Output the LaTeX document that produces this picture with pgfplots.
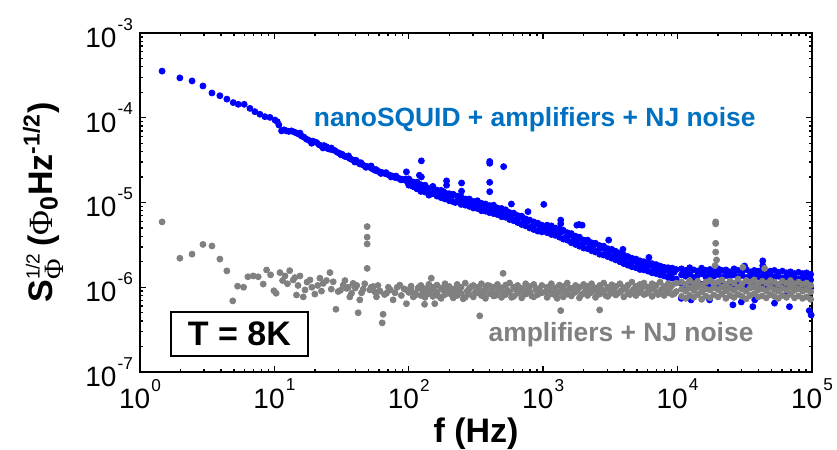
\documentclass[border=0pt]{standalone}
\usepackage{amsmath}
\usepackage{fontspec}
\setmainfont{Liberation Sans}
\newfontfamily\serifphi{Liberation Serif}
\usepackage{pgfplots}
\pgfplotsset{compat=1.18}
\definecolor{sqblue}{RGB}{0,0,255}
\definecolor{sqgray}{RGB}{128,128,128}
\definecolor{txtblue}{RGB}{0,112,192}
\newcommand{\tsup}[1]{\kern0.6pt\raisebox{8.6pt}{\fontsize{8.6}{9}\selectfont #1}}

\pgfplotstableread{
f S
1.46 3.55e-4
1.98 2.95e-4
2.44 2.72e-4
2.94 2.37e-4
3.43 1.96e-4
3.93 1.82e-4
4.43 1.66e-4
4.94 1.51e-4
5.38 1.44e-4
5.96 1.44e-4
6.58 1.29e-4
7.16 1.18e-4
7.80 1.10e-4
8.50 1.03e-4
9.26 1.01e-4
10.1 9.4e-5
10.5 9.0e-5
10.8 8.2e-5
11.3 7.0e-5
11.8 7.2e-5
12.3 7.0e-5
12.8 6.9e-5
13.4 7.0e-5
14.0 6.8e-5
14.6 6.6e-5
15.2 6.4e-5
15.5 6.6e-5
15.9 6.1e-5
16.6 5.9e-5
17.3 5.6e-5
18.1 5.4e-5
18.9 5.0e-5
19.3 5.3e-5
19.7 5.2e-5
20.6 5.1e-5
21.5 4.8e-5
22.4 4.65e-5
23.0 4.4e-5
23.4 4.7e-5
24.4 4.55e-5
25.1 4.3e-5
25.9 4.25e-5
26.5 4.4e-5
27.0 4.2e-5
28.2 4.1e-5
29.4 3.9e-5
30.7 3.8e-5
31.3 3.65e-5
32.0 3.7e-5
33.4 3.5e-5
34.9 3.45e-5
35.6 3.55e-5
36.4 3.3e-5
38.0 3.2e-5
39.7 3.0e-5
40.5 3.15e-5
41.4 3.0e-5
43.2 2.85e-5
44.0 2.95e-5
45.1 2.8e-5
47.1 2.7e-5
48.0 2.6e-5
49.1 2.65e-5
51.3 2.6e-5
52.4 2.7e-5
53.5 2.5e-5
55.9 2.4e-5
57.0 2.45e-5
58.3 2.35e-5
60.8 2.3e-5
62.0 2.2e-5
63.5 2.25e-5
66.3 2.2e-5
67.7 2.25e-5
69.2 2.15e-5
72.2 2.1e-5
73.8 2.0e-5
75.4 2.05e-5
78.7 1.98e-5
80.4 2.05e-5
82.1 1.95e-5
85.7 1.91e-5
87.5 1.85e-5
89.4 1.88e-5
93.3 1.84e-5
95.3 1.9e-5
96 2.3e-5
97.4 1.78e-5
99.0 1.7e-5
100 1.90e-5
100 1.60e-5
107 1.75e-5
107 1.55e-5
115 1.74e-5
115 1.45e-5
120 2.1e-5
123 1.62e-5
123 1.35e-5
124 3.1e-5
124 2.0e-5
132 1.60e-5
132 1.33e-5
141 1.45e-5
141 1.22e-5
151 1.55e-5
151 1.27e-5
162 1.40e-5
162 1.19e-5
174 1.39e-5
174 1.14e-5
186 1.30e-5
186 1.10e-5
191 1.8e-5
191 1.6e-5
200 1.27e-5
200 1.05e-5
214 1.25e-5
214 1.02e-5
229 1.19e-5
229 1.03e-5
245 1.17e-5
245 0.95e-5
247 1.7e-5
247 1.36e-5
263 1.10e-5
263 9.3e-6
282 1.10e-5
282 9.0e-6
302 1.03e-5
302 8.6e-6
324 1.05e-5
324 8.5e-6
347 9.8e-6
347 8.0e-6
372 9.6e-6
372 7.9e-6
398 9.2e-6
398 7.6e-6
400 3.05e-5
400 2.9e-5
400 1.73e-5
400 1.34e-5
427 9.3e-6
427 7.4e-6
457 8.6e-6
457 7.2e-6
490 8.5e-6
490 6.8e-6
508 2.65e-5
525 8.2e-6
525 6.7e-6
562 7.6e-6
562 6.3e-6
580 9.6e-6
603 7.5e-6
603 6.1e-6
646 7.0e-6
646 5.8e-6
692 6.9e-6
692 5.5e-6
741 6.4e-6
741 5.3e-6
771 7.8e-6
794 6.2e-6
794 5.0e-6
851 5.9e-6
851 4.8e-6
912 5.7e-6
912 4.6e-6
977 5.4e-6
977 4.5e-6
1010 9.5e-6
1070 5.4e-6
1070 4.4e-6
1150 5.3e-6
1150 4.2e-6
1230 5.0e-6
1230 4.1e-6
1320 4.9e-6
1320 3.9e-6
1350 6.2e-6
1350 5.6e-6
1410 4.7e-6
1410 3.7e-6
1510 4.4e-6
1510 3.6e-6
1620 4.3e-6
1620 3.35e-6
1740 4.0e-6
1740 3.2e-6
1780 5.4e-6
1850 5.5e-6
1860 3.9e-6
1860 3.05e-6
1950 5.4e-6
2000 3.6e-6
2000 2.9e-6
2140 3.6e-6
2140 2.85e-6
2290 3.35e-6
2290 2.7e-6
2450 3.3e-6
2450 2.6e-6
2630 3.1e-6
2630 2.45e-6
2820 3.05e-6
2820 2.4e-6
3020 2.85e-6
3020 2.3e-6
3070 3.6e-6
3240 2.8e-6
3240 2.2e-6
3470 2.65e-6
3470 2.1e-6
3720 2.5e-6
3720 2.0e-6
3920 2.8e-6
3980 2.4e-6
3980 1.9e-6
4270 2.3e-6
4270 1.82e-6
4570 2.2e-6
4570 1.75e-6
4900 2.15e-6
4900 1.7e-6
5250 2.05e-6
5250 1.62e-6
5620 2.0e-6
5620 1.6e-6
6030 1.95e-6
6030 1.55e-6
6120 2.25e-6
6460 1.9e-6
6460 1.48e-6
6920 1.85e-6
6920 1.45e-6
7410 1.78e-6
7410 1.4e-6
7940 1.72e-6
7940 1.36e-6
8510 1.7e-6
8510 1.3e-6
9120 1.68e-6
9120 1.28e-6
9770 1.62e-6
9770 1.25e-6
10650 7.4e-7
10700 1.65e-6
10700 1.40e-6
10700 1.12e-6
11500 1.58e-6
11500 1.35e-6
11500 1.05e-6
12300 1.70e-6
12300 1.42e-6
12300 1.15e-6
12600 7.1e-7
13200 1.60e-6
13200 1.30e-6
13200 1.02e-6
14100 1.55e-6
14100 1.38e-6
14100 1.10e-6
15100 1.68e-6
15100 1.45e-6
15100 1.08e-6
16200 1.58e-6
16200 1.33e-6
16200 1.12e-6
17300 7.1e-7
17400 1.62e-6
17400 1.40e-6
17400 1.00e-6
18600 1.55e-6
18600 1.35e-6
18600 1.10e-6
20000 1.65e-6
20000 1.42e-6
20000 1.05e-6
21400 1.58e-6
21400 1.30e-6
21400 1.12e-6
22900 1.60e-6
22900 1.38e-6
22900 1.02e-6
24500 1.52e-6
24500 1.35e-6
24500 1.10e-6
25800 6.2e-7
26300 1.65e-6
26300 1.40e-6
26300 1.05e-6
28200 1.58e-6
28200 1.32e-6
28200 1.12e-6
29800 6.7e-7
30200 1.55e-6
30200 1.38e-6
30200 1.00e-6
31500 1.78e-6
32400 1.62e-6
32400 1.30e-6
32400 1.08e-6
34700 1.52e-6
34700 1.36e-6
34700 1.12e-6
36300 5.9e-7
37200 1.58e-6
37200 1.40e-6
37200 1.02e-6
37500 7.1e-7
39800 1.55e-6
39800 1.32e-6
39800 1.08e-6
42700 1.60e-6
42700 1.35e-6
42700 1.12e-6
43000 2.05e-6
43000 1.8e-6
45700 1.50e-6
45700 1.30e-6
45700 1.00e-6
49000 1.55e-6
49000 1.38e-6
49000 1.08e-6
52500 1.58e-6
52500 1.32e-6
52500 1.10e-6
52600 6.5e-7
56200 1.50e-6
56200 1.35e-6
56200 1.02e-6
60300 1.55e-6
60300 1.28e-6
60300 1.08e-6
64300 8.1e-7
64600 1.48e-6
64600 1.32e-6
64600 1.00e-6
68000 5.9e-7
69200 1.52e-6
69200 1.30e-6
69200 1.06e-6
74100 1.45e-6
74100 1.28e-6
74100 1.02e-6
79400 1.50e-6
79400 1.25e-6
79400 1.05e-6
85100 1.45e-6
85100 1.28e-6
85100 0.98e-6
85400 9.3e-7
91200 1.48e-6
91200 1.25e-6
91200 1.02e-6
95500 5.3e-7
97700 1.42e-6
97700 1.22e-6
97700 0.98e-6
98600 4.7e-7
}\squid

% in-between points of the blue band
\pgfplotstableread{
f S
104 1.73e-5
111 1.52e-5
119 1.64e-5
127 1.43e-5
137 1.49e-5
146 1.26e-5
157 1.36e-5
168 1.24e-5
180 1.35e-5
193 1.13e-5
207 1.17e-5
222 1.0e-5
237 1.14e-5
254 1.04e-5
272 9.4e-6
292 1.04e-5
313 9.3e-6
335 9.4e-6
359 8.3e-6
385 9.0e-6
412 8.1e-6
442 8.3e-6
473 7.3e-6
507 8.0e-6
543 7.1e-6
582 7.2e-6
624 6.3e-6
668 6.7e-6
716 6.0e-6
767 6.0e-6
822 5.2e-6
881 5.6e-6
944 5.0e-6
1040 5.1e-6
1110 4.6e-6
1190 4.9e-6
1270 4.4e-6
1370 4.5e-6
1460 3.85e-6
1570 4.1e-6
1680 3.6e-6
1800 3.6e-6
1930 3.2e-6
2070 3.4e-6
2220 3.0e-6
2370 3.1e-6
2540 2.7e-6
2720 2.9e-6
2920 2.6e-6
3130 2.6e-6
3350 2.3e-6
3590 2.4e-6
3850 2.15e-6
4120 2.15e-6
4420 1.9e-6
4730 2.05e-6
5070 1.84e-6
5430 1.88e-6
5820 1.7e-6
6240 1.82e-6
6680 1.63e-6
7160 1.67e-6
7670 1.5e-6
8220 1.6e-6
8810 1.46e-6
9440 1.51e-6
}\squidmid

\pgfplotstableread{
f S
1.46 5.9e-6
1.98 2.2e-6
2.44 2.46e-6
2.94 3.2e-6
3.43 3.07e-6
3.93 2.15e-6
4.43 1.56e-6
4.90 6.9e-7
5.32 1.03e-6
5.90 1.0e-6
6.35 1.33e-6
6.96 1.36e-6
7.58 1.33e-6
8.26 1.09e-6
8.75 1.6e-6
9.37 1.4e-6
9.91 9.1e-7
10.3 8.5e-7
11.0 1.49e-6
11.5 1.2e-6
12.0 1.36e-6
12.5 1.1e-6
13.0 1.57e-6
13.8 1.22e-6
14.2 1.3e-6
14.6 8.1e-7
15.0 1.05e-6
15.5 1.36e-6
16.4 7.7e-7
16.9 9.3e-7
17.5 1.15e-6
18.4 1.22e-6
19.0 1.0e-6
20.0 8.3e-7
21.0 1.05e-6
21.8 1.28e-6
22.4 9.0e-7
23.1 1.11e-6
24.4 1.2e-6
25.9 1.49e-6
26.5 9.5e-7
27.4 1.16e-6
28.7 5.5e-7
29.8 8.9e-7
31.0 9.2e-7
32.5 1.06e-6
33.5 1.2e-6
34.4 9.7e-7
35.5 1.0e-6
36.4 7.7e-7
37.5 8.5e-7
38.5 1.11e-6
40.0 9.8e-7
41.0 1.05e-6
42.0 5.0e-7
43.2 7.1e-7
44.5 8.6e-7
45.8 9.5e-7
47.0 1.1e-6
49 5.2e-6
49 3.9e-6
49 3.24e-6
49 1.67e-6
51.3 9.3e-7
52.5 1.0e-6
54.3 1.02e-6
56.0 8.8e-7
57.5 7.7e-7
59.0 1.05e-6
61.0 9.0e-7
63.4 3.8e-7
64.4 4.8e-7
66.0 8.2e-7
68.2 8.5e-7
70.5 1.0e-6
73.0 9.3e-7
76.4 7.1e-7
79.0 8.6e-7
82.0 1.0e-6
85.7 1.06e-6
88.0 8.0e-7
92.0 9.6e-7
96 6.4e-7
96.1 9.3e-7
100 8.7e-7
104 1.03e-6
108 7.7e-7
112 8.5e-7
117 9.7e-7
123 1.05e-6
123 8.0e-7
131 6.3e-7
132 9.6e-7
132 7.6e-7
141 1.08e-6
141 8.4e-7
147 1.28e-6
151 1.0e-6
151 7.8e-7
156 6.4e-7
162 1.06e-6
162 8.6e-7
174 9.8e-7
174 7.4e-7
186 1.1e-6
186 8.2e-7
200 1.02e-6
200 8.8e-7
214 9.5e-7
214 7.5e-7
229 1.08e-6
229 8.0e-7
245 1.0e-6
245 8.5e-7
263 1.12e-6
263 7.6e-7
282 9.7e-7
282 8.3e-7
302 1.05e-6
302 7.7e-7
324 1.0e-6
324 8.6e-7
337 4.6e-7
347 1.1e-6
347 8.0e-7
372 9.6e-7
372 7.4e-7
398 1.04e-6
398 8.4e-7
427 1.0e-6
427 7.9e-7
457 1.08e-6
457 8.7e-7
490 9.8e-7
490 7.6e-7
503 1.46e-6
525 1.06e-6
525 8.2e-7
562 1.12e-6
562 8.8e-7
603 1.0e-6
603 7.8e-7
646 1.05e-6
646 8.5e-7
692 9.7e-7
692 7.5e-7
741 1.1e-6
741 8.3e-7
794 1.02e-6
794 8.8e-7
851 1.08e-6
851 7.7e-7
912 9.6e-7
912 8.2e-7
977 1.05e-6
977 8.6e-7
1070 1.0e-6
1070 7.6e-7
1150 1.1e-6
1150 8.4e-7
1230 9.8e-7
1230 8.0e-7
1320 1.06e-6
1320 8.7e-7
1350 5.3e-7
1410 1.02e-6
1410 7.7e-7
1510 1.12e-6
1510 8.3e-7
1620 9.7e-7
1620 7.9e-7
1740 1.05e-6
1740 8.8e-7
1860 1.0e-6
1860 7.5e-7
2000 1.08e-6
2000 8.5e-7
2140 1.03e-6
2140 8.0e-7
2290 1.1e-6
2290 8.7e-7
2450 9.8e-7
2450 7.6e-7
2630 1.05e-6
2630 8.3e-7
2630 5.4e-7
2820 1.12e-6
2820 8.9e-7
3020 1.0e-6
3020 7.8e-7
3240 1.07e-6
3240 8.5e-7
3470 1.02e-6
3470 8.1e-7
3720 1.1e-6
3720 8.8e-7
3980 9.9e-7
3980 7.7e-7
4270 1.06e-6
4270 8.4e-7
4570 1.15e-6
4570 9.0e-7
4900 1.02e-6
4900 8.0e-7
5250 1.08e-6
5250 8.7e-7
5620 1.12e-6
5620 8.2e-7
6030 1.0e-6
6030 8.8e-7
6460 1.1e-6
6460 7.8e-7
6920 1.05e-6
6920 8.5e-7
7410 1.15e-6
7410 9.0e-7
7940 1.02e-6
7940 8.0e-7
8510 1.1e-6
8510 8.6e-7
9120 1.06e-6
9120 8.2e-7
9770 1.12e-6
9770 8.9e-7
10700 1.15e-6
10700 9.5e-7
10700 7.8e-7
11500 1.08e-6
11500 9.0e-7
11500 7.4e-7
12300 1.2e-6
12300 9.8e-7
12300 8.0e-7
13200 1.1e-6
13200 9.2e-7
13200 7.6e-7
14100 1.18e-6
14100 1.0e-6
14100 8.2e-7
15100 1.05e-6
15100 8.8e-7
15100 7.2e-7
16200 1.15e-6
16200 9.6e-7
16200 7.9e-7
17400 1.2e-6
17400 9.3e-7
17400 7.5e-7
18600 1.1e-6
18600 9.9e-7
18600 8.1e-7
19000 1.8e-6
19200 5.9e-6
19200 5.6e-6
19200 3.3e-6
19200 2.6e-6
19500 2.1e-6
20000 1.15e-6
20000 9.4e-7
20000 7.7e-7
21400 1.22e-6
21400 1.0e-6
21400 8.3e-7
22900 1.08e-6
22900 9.1e-7
22900 7.4e-7
24500 1.18e-6
24500 9.7e-7
24500 8.0e-7
26300 1.12e-6
26300 9.2e-7
26300 7.6e-7
28200 1.25e-6
28200 1.0e-6
28200 8.2e-7
30200 1.1e-6
30200 9.5e-7
30200 7.8e-7
30600 1.72e-6
32400 1.2e-6
32400 9.0e-7
32400 7.3e-7
34700 1.15e-6
34700 9.8e-7
34700 8.0e-7
37200 1.22e-6
37200 1.02e-6
37200 8.4e-7
39800 1.1e-6
39800 9.3e-7
39800 7.7e-7
42700 1.18e-6
42700 9.6e-7
42700 7.9e-7
44400 1.67e-6
45700 1.12e-6
45700 9.1e-7
45700 7.5e-7
49000 1.2e-6
49000 1.0e-6
49000 8.2e-7
52500 1.15e-6
52500 9.4e-7
52500 7.8e-7
56200 1.08e-6
56200 9.0e-7
56200 7.4e-7
60300 1.18e-6
60300 9.7e-7
60300 8.0e-7
64600 1.12e-6
64600 9.3e-7
64600 7.6e-7
69200 1.2e-6
69200 1.0e-6
69200 8.3e-7
74100 1.1e-6
74100 9.2e-7
74100 7.5e-7
79400 1.15e-6
79400 9.6e-7
79400 7.9e-7
85100 1.08e-6
85100 9.0e-7
85100 7.4e-7
91200 1.12e-6
91200 9.4e-7
91200 7.7e-7
97700 1.05e-6
97700 8.8e-7
97700 7.2e-7
}\amps

% in-between points of the gray band
\pgfplotstableread{
f S
104 9.2e-7
111 8.0e-7
119 1.0e-6
127 9.0e-7
137 8.5e-7
146 9.6e-7
157 9.0e-7
168 7.8e-7
180 9.3e-7
193 1.0e-6
207 8.2e-7
222 9.0e-7
237 9.5e-7
254 7.3e-7
272 9.0e-7
292 1.02e-6
313 8.8e-7
335 9.4e-7
359 8.5e-7
385 1.05e-6
412 9.0e-7
442 8.0e-7
473 9.5e-7
507 8.6e-7
543 9.2e-7
582 7.6e-7
624 9.4e-7
668 9.0e-7
716 8.6e-7
767 9.6e-7
822 7.9e-7
881 9.3e-7
944 9.0e-7
1040 8.8e-7
1110 9.6e-7
1190 8.6e-7
1270 7.4e-7
1370 9.2e-7
1460 9.0e-7
1570 9.7e-7
1680 8.6e-7
1800 9.4e-7
1930 8.2e-7
2070 9.6e-7
2220 9.0e-7
2370 9.8e-7
2540 8.8e-7
2720 9.4e-7
2920 8.0e-7
3130 9.3e-7
3350 9.6e-7
3590 8.5e-7
3850 9.2e-7
4120 9.7e-7
4420 8.2e-7
4730 9.5e-7
5070 9.0e-7
5430 9.8e-7
5820 8.4e-7
6240 9.3e-7
6680 9.7e-7
7160 8.2e-7
7670 9.5e-7
8220 9.0e-7
8810 9.8e-7
9440 8.4e-7
}\ampsmid

\begin{document}
\begin{tikzpicture}
\begin{axis}[
    at={(0,0)}, anchor=south west,
    scale only axis,
    width=336pt, height=169.5pt,
    xmode=log, ymode=log,
    xmin=1, xmax=1e5,
    ymin=1e-7, ymax=1e-3,
    xtick={1,10,100,1000,10000,100000},
    xticklabels={10\tsup{0},10\tsup{1},10\tsup{2},10\tsup{3},10\tsup{4},10\tsup{5}},
    ytick={1e-7,1e-6,1e-5,1e-4,1e-3},
    yticklabels={10\tsup{-7},10\tsup{-6},10\tsup{-5},10\tsup{-4},10\tsup{-3}},
    ticklabel style={font=\fontsize{14}{14}\selectfont},
    tick align=inside,
    major tick length=3pt,
    minor tick length=1.6pt,
    tick style={black, line width=0.7pt},
    axis line style={line width=1.2pt},
    xlabel={f (Hz)},
    xlabel style={font=\fontsize{17}{18}\selectfont\bfseries,
        at={(rel axis cs:0.5,0)}, anchor=base, yshift=-35pt},
    ylabel={S$^{\text{\mdseries\fontsize{9.5}{10}\selectfont 1/2}}_{\text{\mdseries\serifphi\fontsize{14}{14}\selectfont Φ}}$\,({\mdseries\serifphi Φ}$_{\text{\fontsize{12.5}{13}\selectfont 0}}$Hz$^{\text{\fontsize{11.5}{12}\selectfont -1/2}}$)},
    ylabel style={font=\fontsize{17}{18}\selectfont\bfseries,
        at={(axis description cs:-0.144,0.5)}, anchor=center},
    only marks,
    mark=*,
    mark size=1.5pt,
]
\addplot[sqblue, mark=*, mark options={draw=none, fill=sqblue}] table[x=f, y=S] {\squid};
\addplot[sqblue, mark=*, mark options={draw=none, fill=sqblue}] table[x=f, y=S] {\squidmid};
\addplot[sqgray, mark=*, mark options={draw=none, fill=sqgray}] table[x=f, y=S] {\amps};
\addplot[sqgray, mark=*, mark options={draw=none, fill=sqgray}] table[x=f, y=S] {\ampsmid};
\node[anchor=base east, text=txtblue, font=\fontsize{13.2}{14}\selectfont\bfseries]
    at (axis cs:42900,7.8e-5) {nanoSQUID + amplifiers + NJ noise};
\node[anchor=base east, text=sqgray, font=\fontsize{13.2}{14}\selectfont\bfseries]
    at (axis cs:41400,2.26e-7) {amplifiers + NJ noise};
\node[draw=black, line width=1pt, fill=white, minimum width=68.5pt, minimum height=22pt,
    inner sep=0pt, font=\fontsize{17}{18}\selectfont\bfseries]
    at (axis cs:5.49,2.8e-7) {T = 8K};
\end{axis}
\pgfresetboundingbox
\path (-70pt,-39pt) rectangle (348.5pt,186pt);
\end{tikzpicture}
\end{document}
